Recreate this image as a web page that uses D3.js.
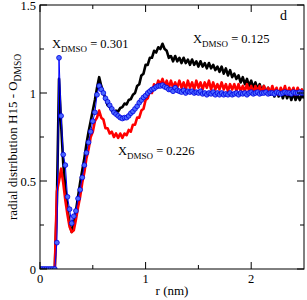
<!DOCTYPE html>
<html><head><meta charset="utf-8">
<script src="https://cdn.jsdelivr.net/npm/d3@7"></script>
<style>
html,body{margin:0;padding:0;background:#fff;}
svg{display:block;}
text{font-family:"Liberation Serif","Times New Roman",serif;fill:#000;}
</style></head>
<body>
<svg id="c" width="307" height="300"></svg>
<script>
const rStep = 0.02;
const xTicks = [0, 1, 2];
const yTicks = [0, 0.5, 1, 1.5];
const yTickLabels = ["0", "0.5", "1", "1.5"];
const xDomain = [0, 2.5];
const yDomain = [0, 1.5];

const gBlack = [0,0,0,0,0,0,0,0,0.38,1.08,0.82,0.60,0.46,0.34,0.26,0.21,0.25,0.33,0.41,0.49,
0.56,0.63,0.71,0.78,0.84,0.90,0.96,1.03,1.09,1.04,1.00,0.97,0.93,0.92,0.90,0.885,0.90,0.895,0.915,0.92,
0.94,0.935,0.96,0.965,0.99,1.00,1.04,1.05,1.10,1.11,1.16,1.16,1.20,1.20,1.24,1.23,1.26,1.25,1.28,1.25,
1.24,1.20,1.21,1.18,1.21,1.18,1.20,1.17,1.20,1.17,1.19,1.16,1.19,1.16,1.18,1.15,1.18,1.15,1.17,1.14,
1.17,1.14,1.16,1.13,1.15,1.12,1.15,1.11,1.14,1.10,1.13,1.09,1.11,1.08,1.10,1.06,1.09,1.05,1.08,1.04,
1.07,1.03,1.06,1.02,1.05,1.01,1.04,1.00,1.03,0.99,1.02,0.98,1.02,0.98,1.01,0.97,1.01,0.97,1.00,0.96,
1.00,0.96,0.99,0.96,0.99,0.97];

const gRed = [0,0,0,0,0,0,0,0,0.44,0.50,0.57,0.49,0.39,0.31,0.24,0.21,0.22,0.28,0.35,0.41,
0.49,0.55,0.63,0.68,0.75,0.78,0.84,0.86,0.90,0.86,0.85,0.80,0.80,0.77,0.78,0.75,0.77,0.745,0.77,0.745,
0.77,0.76,0.79,0.78,0.82,0.82,0.86,0.86,0.90,0.91,0.96,0.97,1.01,1.00,1.05,1.03,1.07,1.05,1.08,1.04,
1.07,1.03,1.07,1.03,1.06,1.03,1.07,1.03,1.06,1.02,1.07,1.03,1.06,1.02,1.07,1.03,1.06,1.02,1.06,1.03,
1.07,1.02,1.06,1.02,1.05,1.02,1.06,1.02,1.05,1.01,1.05,1.02,1.05,1.01,1.05,1.01,1.04,1.01,1.05,1.01,
1.04,1.00,1.04,1.01,1.04,1.00,1.04,1.00,1.03,1.00,1.04,1.00,1.03,0.99,1.03,1.00,1.04,0.99,1.03,1.00,
1.03,0.99,1.03,1.00,1.02,1.00];

const gBlue = [0,0,0,0,0,0,0,0,0.15,1.20,0.87,0.65,0.59,0.41,0.34,0.26,0.30,0.33,0.40,0.45,
0.52,0.59,0.66,0.72,0.78,0.84,0.89,0.99,1.04,1.02,1.00,0.97,0.95,0.93,0.91,0.89,0.88,0.87,0.86,0.855,
0.86,0.86,0.87,0.885,0.895,0.91,0.925,0.945,0.96,0.975,0.985,1.00,1.01,1.02,1.025,1.035,1.04,1.04,1.045,1.035,
1.03,1.02,1.02,1.01,1.03,1.015,1.01,1.005,1.015,1.00,1.01,1.005,1.01,1.00,1.005,1.00,1.01,0.995,1.00,0.99,
1.00,0.995,1.005,0.99,1.00,0.99,1.00,0.99,0.995,0.99,1.00,0.99,0.995,1.00,0.99,1.00,0.995,1.00,0.99,1.00,
1.005,0.995,1.00,1.005,0.995,1.00,1.00,1.005,0.995,1.00,1.00,0.995,1.005,1.00,0.995,1.00,1.005,1.00,1.00,0.995,
1.005,1.00,1.00,1.005,1.00,1.00];

const seriesNames = ["0.125", "0.226", "0.301"];
const seriesColors = ["#000000", "#ff0000", "#0000ff"];

const svg = d3.select("#c");
const L = 40, R = 304, T = 5, B = 269;
const x = d3.scaleLinear().domain(xDomain).range([L, R]);
const y = d3.scaleLinear().domain(yDomain).range([B, T]);

svg.append("defs").append("clipPath").attr("id","clip")
  .append("rect").attr("x",L).attr("y",T).attr("width",R-L).attr("height",B-T);

const toPts = arr => arr.map((v,i)=>[i*rStep, v]);
const line = d3.line().x(d=>x(d[0])).y(d=>y(d[1]));
const plot = svg.append("g").attr("clip-path","url(#clip)");

plot.append("path").datum(toPts(gBlack)).attr("d",line)
  .attr("fill","none").attr("stroke",seriesColors[0]).attr("stroke-width",2.6).attr("stroke-linejoin","round");
plot.append("path").datum(toPts(gRed)).attr("d",line)
  .attr("fill","none").attr("stroke",seriesColors[1]).attr("stroke-width",2.6).attr("stroke-linejoin","round");
plot.append("path").datum(toPts(gBlue)).attr("d",line)
  .attr("fill","none").attr("stroke",seriesColors[2]).attr("stroke-width",1);
plot.selectAll("circle.b").data(toPts(gBlue)).enter().append("circle")
  .attr("cx",d=>x(d[0])).attr("cy",d=>y(d[1])).attr("r",2.4)
  .attr("fill","#4a68ff").attr("stroke","#0000e0").attr("stroke-width",0.8);

// frame
svg.append("rect").attr("x",L).attr("y",T).attr("width",R-L).attr("height",B-T)
  .attr("fill","none").attr("stroke","#000").attr("stroke-width",1);

// ticks (inward, all sides)
const xMinor = d3.range(0.5, 2.5, 1);
const yMinor = d3.range(0.25, 1.5, 0.5);
const tg = svg.append("g").attr("stroke","#000").attr("stroke-width",1);
xTicks.forEach(t=>{
  tg.append("line").attr("x1",x(t)).attr("x2",x(t)).attr("y1",B).attr("y2",B-7);
  tg.append("line").attr("x1",x(t)).attr("x2",x(t)).attr("y1",T).attr("y2",T+7);
});
xMinor.forEach(t=>{
  tg.append("line").attr("x1",x(t)).attr("x2",x(t)).attr("y1",B).attr("y2",B-4);
  tg.append("line").attr("x1",x(t)).attr("x2",x(t)).attr("y1",T).attr("y2",T+4);
});
yTicks.forEach(t=>{
  tg.append("line").attr("x1",L).attr("x2",L+7).attr("y1",y(t)).attr("y2",y(t));
  tg.append("line").attr("x1",R).attr("x2",R-7).attr("y1",y(t)).attr("y2",y(t));
});
yMinor.forEach(t=>{
  tg.append("line").attr("x1",L).attr("x2",L+4).attr("y1",y(t)).attr("y2",y(t));
  tg.append("line").attr("x1",R).attr("x2",R-4).attr("y1",y(t)).attr("y2",y(t));
});

// tick labels
svg.selectAll("text.xt").data(xTicks).enter().append("text")
  .attr("x",d=>x(d)).attr("y",283).attr("text-anchor","middle").attr("font-size",12.5).text(d=>d);
svg.selectAll("text.yt").data(yTicks).enter().append("text")
  .attr("x",36).attr("y",d=>y(d)+4.5).attr("text-anchor","end").attr("font-size",12.5)
  .text((d,i)=>yTickLabels[i]);

// axis titles
svg.append("text").attr("x",172).attr("y",295).attr("text-anchor","middle").attr("font-size",13).text("r (nm)");
const yl = svg.append("text").attr("transform","translate(17,137) rotate(-90)")
  .attr("text-anchor","middle").attr("font-size",13);
yl.append("tspan").text("radial distribution H15 - O");
yl.append("tspan").attr("dy",3.5).attr("font-size",9.5).text("DMSO");

// annotations
function ann(px, py, val){
  const t = svg.append("text").attr("x",px).attr("y",py).attr("font-size",12.5);
  t.append("tspan").text("X");
  t.append("tspan").attr("dy",4).attr("font-size",9).text("DMSO");
  t.append("tspan").attr("dy",-4).text(" = " + val);
}
ann(52, 48, seriesNames[2]);
ann(193, 43, seriesNames[0]);
ann(118, 155, seriesNames[1]);
svg.append("text").attr("x",280).attr("y",20).attr("font-size",14).text("d");
</script>
</body></html>
